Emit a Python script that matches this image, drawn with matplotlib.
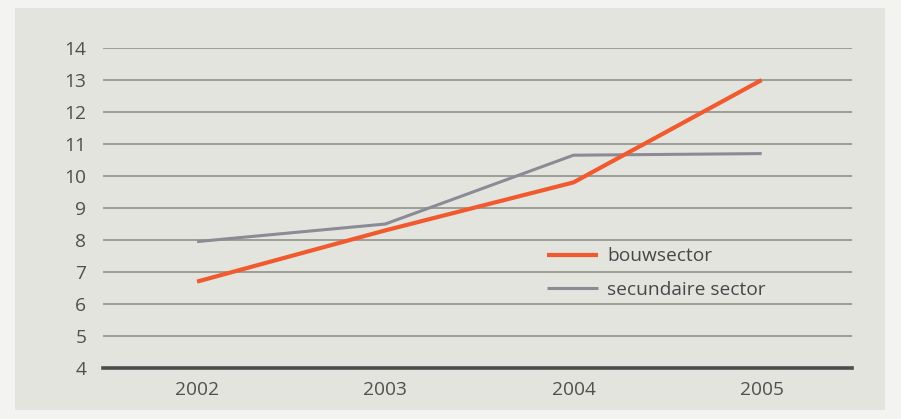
import matplotlib
matplotlib.use('Agg')
import matplotlib.pyplot as plt
from matplotlib.patches import Rectangle

# data
years = [2002, 2003, 2004, 2005]
bouwsector = [6.7, 8.3, 9.8, 13.0]
secundaire_sector = [7.95, 8.5, 10.65, 10.7]
series_labels = ['bouwsector', 'secundaire sector']
y_ticks = list(range(4, 15))

plt.rcParams['font.family'] = ['Open Sans', 'DejaVu Sans']

W, H = 901, 419
fig = plt.figure(figsize=(W / 100, H / 100), dpi=100)
fig.patch.set_facecolor('#f3f3f1')
# grey panel behind the chart
panel = Rectangle((15 / W, 1 - 410 / H), 870 / W, 402 / H,
                  transform=fig.transFigure, facecolor='#e4e4df',
                  edgecolor='none', zorder=-10)
fig.add_artist(panel)

ax = fig.add_axes([103 / W, 1 - 368 / H, (852 - 103) / W, (368 - 48) / H])
ax.set_facecolor('none')
ax.set_zorder(5)

ax.plot(years, bouwsector, color='#f15a2e', lw=3.0, solid_capstyle='butt',
        label=series_labels[0], zorder=3)
ax.plot(years, secundaire_sector, color='#8b8b96', lw=2.2, solid_capstyle='butt',
        label=series_labels[1], zorder=2)

ax.set_xlim(2001.5, 2005.48)
ax.set_ylim(4, 14)
ax.set_yticks(y_ticks)
ax.set_xticks(years)
ax.set_xticklabels([str(y) for y in years])

for y in y_ticks[1:]:
    ax.axhline(y, color='#8a8a86', lw=1.1, zorder=1)
ax.axhline(4, color='#4c4c4c', lw=2.6, zorder=1, clip_on=False)

for s in ax.spines.values():
    s.set_visible(False)
ax.tick_params(axis='both', length=0, labelsize=13.8, labelcolor='#505050')
ax.tick_params(axis='y', pad=12)
ax.tick_params(axis='x', pad=9)

leg = ax.legend(loc='center left', bbox_to_anchor=(547 / W, 1 - 273 / H),
                bbox_transform=fig.transFigure, frameon=False, fontsize=13.8,
                handlelength=2.65, handletextpad=0.5, labelspacing=0.8,
                borderpad=0, borderaxespad=0)
for t in leg.get_texts():
    t.set_color('#474747')

fig.savefig('out.png', dpi=100, facecolor=fig.get_facecolor())
